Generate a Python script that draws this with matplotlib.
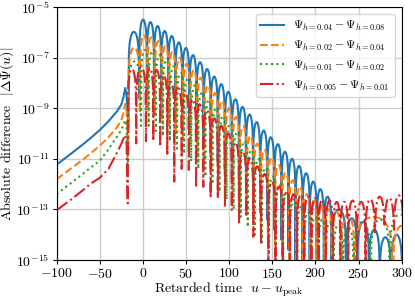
import matplotlib
matplotlib.use("Agg")
import matplotlib.pyplot as plt
import numpy as np

plt.rcParams.update({
    "font.family": "serif",
    "font.serif": ["cmr10", "DejaVu Serif"],
    "mathtext.fontset": "cm",
    "axes.formatter.use_mathtext": True,
    "axes.unicode_minus": True,
})

# smooth inspiral part, log10 of |dPsi|
pre_u = [-100, -90, -80, -70, -60, -50, -40, -30, -25, -22.5, -20.5, -19.0]
pre_04 = [-11.23, -10.97, -10.71, -10.44, -10.16, -9.86, -9.52, -9.12, -8.85, -8.55, -8.2, -8.5]
pre_02 = [-11.81, -11.55, -11.3, -11.04, -10.77, -10.48, -10.15, -9.75, -9.47, -9.17, -8.83, -9.1]
pre_01 = [-12.4, -12.13, -11.87, -11.6, -11.33, -11.08, -10.62, -10.12, -9.85, -9.65, -9.47, -9.75]
pre_005 = [-13.03, -12.78, -12.52, -12.25, -11.97, -11.75, -11.4, -10.75, -10.4, -10.2, -10.06, -10.35]

# ringdown: zero crossings (u), depth at each crossing and lobe maxima (log10)
dip_u_04 = [-16.8, -4.3, 4.6, 12.9, 21.1, 29.3, 37.5, 45.7, 53.9, 62.1, 70.3, 78.5,
            86.7, 94.9, 103.1, 111.3, 119.5, 127.7, 135.9, 144.1, 152.3, 160.5, 168.7,
            176.9, 185.1, 193.3, 201.5, 209.7, 218.5, 235.5, 248.5, 262.0, 274.5, 287.5, 300.5]
dip_04 = [-9.8, -8.6, -8.5, -8.7, -8.9, -9.1, -9.4, -9.6, -9.9, -10.2, -10.5, -10.8,
          -11.1, -11.4, -11.8, -12.1, -12.4, -12.8, -13.1, -13.4, -13.8, -14.2, -14.6,
          -15.2, -15.6, -16, -16, -16, -16, -16, -16, -16, -16, -16, -16]
peak_04 = [-5.98, -5.5, -5.6, -5.75, -5.95, -6.15, -6.4, -6.62, -6.9, -7.18, -7.45,
           -7.75, -8.05, -8.35, -8.65, -8.95, -9.25, -9.55, -9.88, -10.15, -10.42, -10.72,
           -11.0, -11.28, -11.57, -11.9, -12.2, -12.5, -13.0, -13.35, -13.5, -13.8, -14.1, -14.0]

dip_u_02 = [-17.0, -3.5, 5.4, 13.7, 21.9, 30.1, 38.3, 46.5, 54.7, 62.9, 71.1, 79.3,
            87.5, 95.7, 103.9, 112.1, 120.3, 128.5, 136.7, 144.9, 153.1, 161.3, 169.5,
            177.7, 185.9, 194.1, 202.3, 210.5, 219.0, 230.0, 245.0, 290.0, 310.0]
dip_02 = [-10.8, -9.2, -9.1, -9.3, -9.5, -9.7, -10.0, -10.2, -10.5, -10.8, -11.1, -11.4,
          -11.7, -12.0, -12.4, -12.7, -13.1, -13.4, -13.7, -14.0, -14.4, -14.8, -15.3,
          -16, -16, -16, -16, -16, -16, -16, -16, -16, -16]
peak_02 = [-6.6, -6.12, -6.2, -6.35, -6.55, -6.78, -7.0, -7.25, -7.5, -7.8, -8.1, -8.4,
           -8.7, -9.0, -9.35, -9.7, -10.1, -10.4, -10.65, -10.95, -11.25, -11.55, -11.85,
           -12.1, -12.4, -12.65, -12.85, -13.0, -13.1, -13.2, -13.3, -13.65]

dip_u_01 = [-17.2, -2.3, 6.6, 14.9, 23.1, 31.3, 39.5, 47.7, 55.9, 64.1, 72.3, 80.5,
            88.7, 96.9, 105.1, 113.3, 121.5, 129.7, 137.9, 146.1, 154.3, 162.5, 170.7,
            178.9, 187.1, 195.3, 203.5, 212.0, 221.0, 232.0, 244.0, 264.0, 286.0, 310.0]
dip_01 = [-11.4, -9.7, -9.7, -9.9, -10.1, -10.3, -10.6, -10.8, -11.1, -11.4, -11.7, -12.0,
          -12.3, -12.6, -13.0, -13.3, -13.7, -14.0, -14.4, -14.8, -15.2, -16, -16, -16,
          -16, -16, -16, -16, -16, -16, -16, -16, -16, -16]
peak_01 = [-7.15, -6.7, -6.75, -6.9, -7.1, -7.35, -7.6, -7.85, -8.1, -8.4, -8.7, -9.0,
           -9.3, -9.6, -9.95, -10.3, -10.65, -11.0, -11.35, -11.7, -12.0, -12.3, -12.6,
           -12.9, -13.1, -13.3, -13.4, -13.5, -13.6, -13.7, -13.5, -13.4, -13.2]

dip_u_005 = [-17.7, -7.8, 3.5, 12.0, 20.0, 28.2, 36.3, 44.9, 53.2, 61.6, 70.0, 78.5,
             86.8, 95.1, 103.0, 111.4, 119.8, 128.0, 136.9, 145.3, 153.6, 162.0, 170.3,
             178.6, 187.0, 195.3, 203.7, 212.0, 220.4, 228.8, 238.0, 248.0, 258.0, 269.0,
             280.0, 291.0, 302.0]
dip_005 = [-12.76, -10.39, -10.3, -10.3, -10.52, -10.8, -11.9, -11.4, -11.44, -12.15,
           -12.11, -12.55, -12.55, -12.9, -13.02, -13.55, -13.3, -14.08, -14.4, -16, -16,
           -16, -16, -16, -16, -16, -16, -16, -16, -16, -16, -16, -16, -13.9, -13.6, -13.8, -13.5]
peak_005 = [-7.45, -7.38, -7.4, -7.5, -7.7, -7.95, -8.15, -8.4, -8.65, -8.85, -9.1, -9.4,
            -9.7, -10.0, -10.35, -10.7, -11.0, -11.3, -11.6, -11.9, -12.1, -12.3, -12.4,
            -12.45, -12.5, -12.55, -12.6, -12.65, -12.7, -12.7, -12.65, -12.7, -12.6, -12.5,
            -12.55, -12.45]

labels = [r"$\Psi_{h=0.04}-\Psi_{h=0.08}$", r"$\Psi_{h=0.02}-\Psi_{h=0.04}$",
          r"$\Psi_{h=0.01}-\Psi_{h=0.02}$", r"$\Psi_{h=0.005}-\Psi_{h=0.01}$"]


def build(pre_v, dip_u, dip_v, peak_v, n=24):
    # join the read inspiral points and the read ringdown lobes into one trace
    uu = list(pre_u)
    vv = list(pre_v)
    t = np.linspace(0, 1, n + 1)[1:-1]
    s = np.sin(np.pi * t)
    for i, p in enumerate(peak_v):
        a, b = dip_u[i], dip_u[i + 1]
        floor = np.where(t < 0.5, dip_v[i], dip_v[i + 1])
        uu.append(a)
        vv.append(dip_v[i])
        uu.extend(a + (b - a) * t)
        vv.extend(p + 0.5 * np.log10(s ** 2 + 10 ** (2 * (floor - p))))
    uu.append(dip_u[-1])
    vv.append(dip_v[-1])
    return np.array(uu), 10 ** np.array(vv)


fig = plt.figure(figsize=(4.15, 2.99), dpi=100)
ax = fig.add_axes([0.1366, 0.1304, 0.8314, 0.8462])

series = [(pre_04, dip_u_04, dip_04, peak_04, "-", "C0"),
          (pre_02, dip_u_02, dip_02, peak_02, "--", "C1"),
          (pre_01, dip_u_01, dip_01, peak_01, ":", "C2"),
          (pre_005, dip_u_005, dip_005, peak_005, "-.", "C3")]
for (pre, du, dv, pv, ls, c), lab in zip(series, labels):
    u, v = build(pre, du, dv, pv)
    ax.plot(u, v, ls=ls, color=c, lw=1.5, label=lab)

ax.set_yscale("log")
ax.set_xlim(-100, 300)
ax.set_ylim(1e-15, 1e-5)
ax.set_xticks([-100, -50, 0, 50, 100, 150, 200, 250, 300])
ax.set_yticks([1e-15, 1e-13, 1e-11, 1e-9, 1e-7, 1e-5])
ax.yaxis.set_minor_locator(matplotlib.ticker.NullLocator())
ax.tick_params(labelsize=10, length=3, pad=2)
ax.grid(True, color="#cccccc", lw=1.0)
ax.set_axisbelow(True)

ax.set_xlabel(r"Retarded time  $u-u_{\rm peak}$", fontsize=10, labelpad=0)
ax.set_ylabel(r"Absolute difference  $|\Delta\Psi(u)|$", fontsize=10, labelpad=0)
ax.legend(loc="upper right", fontsize=8.5, borderaxespad=0.6)

fig.savefig("out.png", dpi=100)
